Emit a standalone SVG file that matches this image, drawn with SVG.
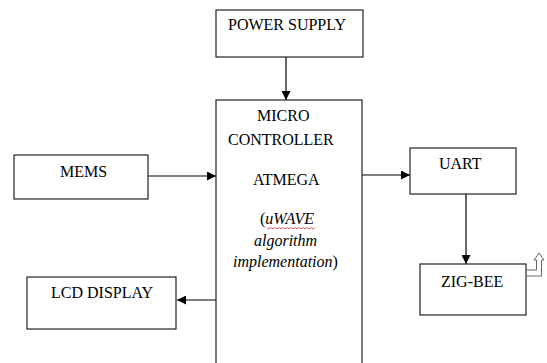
<svg xmlns="http://www.w3.org/2000/svg" width="547" height="363" viewBox="0 0 547 363">
<style>
.box{fill:#fff;stroke:#222;stroke-width:1.2}
.t{font-family:"Liberation Serif","Times New Roman",serif;font-size:16px;fill:#000}
.i{font-style:italic}
.c{stroke:#000;stroke-width:1.2;fill:none}
</style>
<defs>
<marker id="ah" viewBox="0 0 10 10" refX="10" refY="5" markerWidth="9" markerHeight="9" markerUnits="userSpaceOnUse" orient="auto">
<path d="M0,0 L10,5 L0,10 Z" fill="#000"/>
</marker>
</defs>
<rect width="547" height="363" fill="#fff"/>
<g id="connectors">
<line class="c" x1="286" y1="57" x2="286" y2="100" marker-end="url(#ah)"/>
<line class="c" x1="148" y1="176" x2="216" y2="176" marker-end="url(#ah)"/>
<line class="c" x1="216" y1="300" x2="177" y2="300" marker-end="url(#ah)"/>
<line class="c" x1="362" y1="175" x2="410" y2="175" marker-end="url(#ah)"/>
<line class="c" x1="466" y1="194" x2="466" y2="264" marker-end="url(#ah)"/>
<path d="M527,270 L536.5,270 L536.5,260 L534,260 L539,253 L544,260 L541.5,260 L541.5,276 L527,276" fill="#fff" stroke="#666" stroke-width="1"/>
</g>
<g id="power">
<rect class="box" x="216" y="10" width="147" height="47"/>
<text class="t" x="228" y="30">POWER SUPPLY</text>
</g>
<g id="micro">
<rect class="box" x="216" y="100" width="146" height="275"/>
<text class="t" x="257" y="121">MICRO</text>
<text class="t" x="228" y="145">CONTROLLER</text>
<text class="t" x="253" y="185">ATMEGA</text>
<text class="t" x="260" y="224">(<tspan class="i">uWAVE</tspan></text>
<path d="M267,227.5 l2,1.5 l2,-1.5 l2,1.5 l2,-1.5 l2,1.5 l2,-1.5 l2,1.5 l2,-1.5 l2,1.5 l2,-1.5 l2,1.5 l2,-1.5 l2,1.5 l2,-1.5 l2,1.5 l2,-1.5 l2,1.5 l2,-1.5 l2,1.5 l2,-1.5 l2,1.5 l2,-1.5 l2,1.5 l2,-1.5" fill="none" stroke="#e03030" stroke-width="0.8"/>
<text class="t i" x="254" y="246">algorithm</text>
<text class="t" x="233" y="267"><tspan class="i">implementation</tspan>)</text>
</g>
<g id="mems">
<rect class="box" x="14" y="155" width="134" height="44"/>
<text class="t" x="60" y="177">MEMS</text>
</g>
<g id="lcd">
<rect class="box" x="27" y="277" width="149" height="52"/>
<text class="t" x="51" y="298">LCD DISPLAY</text>
</g>
<g id="uart">
<rect class="box" x="410" y="148" width="106" height="46"/>
<text class="t" x="439" y="169">UART</text>
</g>
<g id="zigbee">
<rect class="box" x="420" y="264" width="106" height="51"/>
<text class="t" x="441" y="287">ZIG-BEE</text>
</g>
</svg>
